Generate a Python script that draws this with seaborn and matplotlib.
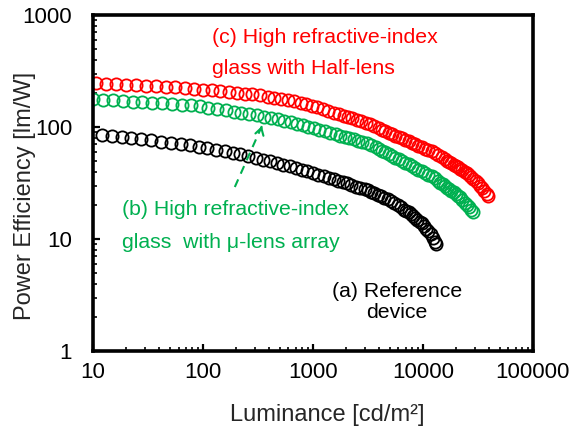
import matplotlib
matplotlib.use("Agg")
import matplotlib.pyplot as plt
import seaborn as sns
import pandas as pd

# Luminance [cd/m2] and power efficiency [lm/W] for each device
lum_ref = [12.0, 14.8, 18.2, 22.4, 27.5, 33.9, 41.7, 51.3, 63.1, 75.9, 91.2, 109.6,
           131.8, 158.5, 186.2, 218.8, 257.0, 302.0, 354.8, 407.4, 467.7, 537.0, 616.6,
           707.9, 794.3, 891.3, 1000, 1122, 1259, 1413, 1549, 1698, 1862, 2042, 2239,
           2455, 2692, 2951, 3162, 3388, 3631, 3890, 4169, 4467, 4786, 5129, 5495, 5888,
           6310, 6761, 7079, 7413, 7762, 8128, 8511, 8913, 9333, 9772, 10230, 10720,
           11220, 11750, 12300, 12880, 13180]
pe_ref = [84.9, 83.2, 81.3, 79.6, 77.8, 76.0, 74.1, 72.4, 70.6, 69.0, 66.8, 64.9, 62.8,
          61.0, 58.9, 56.9, 54.8, 52.8, 50.8, 49.2, 47.5, 45.9, 44.4, 42.8, 41.6, 40.2,
          38.8, 37.5, 36.3, 35.1, 34.1, 33.1, 32.2, 31.3, 30.3, 29.4, 28.6, 27.7, 27.1,
          26.2, 25.5, 24.7, 24.0, 23.3, 22.6, 21.8, 20.9, 20.0, 19.1, 18.3, 17.8, 17.3,
          16.7, 16.1, 15.5, 14.9, 14.3, 13.8, 13.1, 12.4, 11.8, 11.0, 10.2, 9.4, 9.0]

lum_mla = [10.0, 12.3, 15.1, 18.6, 22.9, 28.2, 34.7, 42.7, 52.5, 64.6, 77.6, 93.3, 112.2,
           134.9, 162.2, 190.5, 223.9, 263.0, 309.0, 363.1, 416.9, 478.6, 549.5, 631.0,
           724.4, 812.8, 912.0, 1023, 1148, 1288, 1445, 1622, 1778, 1950, 2138, 2344,
           2570, 2818, 3090, 3388, 3715, 3981, 4266, 4571, 4898, 5248, 5623, 6026, 6457,
           6918, 7413, 7943, 8511, 9120, 9772, 10470, 11220, 12020, 12880, 13800, 14450,
           15140, 15850, 16600, 17380, 18200, 19050, 19950, 20890, 21880, 22910, 23990,
           25120, 26300, 27540, 28510]
pe_mla = [176.6, 174.6, 172.6, 170.2, 168.3, 166.3, 164.4, 162.6, 160.3, 158.5, 156.7,
          152.4, 148.3, 144.5, 140.6, 137.4, 134.3, 130.9, 127.9, 123.6, 120.2, 116.7,
          113.2, 109.9, 106.9, 104.0, 100.7, 97.7, 94.6, 91.6, 88.7, 85.9, 83.8, 81.7,
          79.6, 77.6, 75.7, 73.8, 71.9, 68.7, 65.6, 63.4, 61.2, 59.2, 57.0, 55.1, 53.2,
          51.4, 49.7, 48.0, 46.4, 44.7, 43.2, 41.7, 40.3, 38.9, 37.6, 36.3, 34.7, 33.0,
          31.9, 30.8, 29.8, 28.8, 27.9, 27.0, 26.1, 25.2, 24.4, 23.6, 22.3, 21.1, 20.1,
          19.1, 18.1, 17.4]

lum_half = [10.7, 13.2, 16.2, 20.0, 24.6, 30.2, 37.2, 45.7, 56.2, 69.2, 83.2, 100.0,
            120.2, 144.5, 173.8, 204.2, 239.9, 281.8, 331.1, 389.0, 446.7, 512.9, 588.8,
            676.1, 776.2, 871.0, 977.2, 1096, 1230, 1380, 1549, 1738, 1905, 2089, 2291,
            2512, 2754, 3020, 3311, 3631, 3981, 4266, 4571, 4898, 5248, 5623, 6026, 6457,
            6918, 7413, 7943, 8511, 9120, 9772, 10470, 11220, 12020, 12880, 13800, 14790,
            15850, 16600, 17380, 18200, 19050, 19950, 20890, 21880, 22910, 23990, 25120,
            26300, 27540, 28840, 30200, 31620, 33110, 34670, 36310, 38020, 38900]
pe_half = [245.5, 242.7, 240.4, 237.7, 235.0, 232.8, 230.1, 228.0, 225.4, 222.8, 219.8,
           215.8, 211.8, 208.0, 204.6, 201.4, 198.2, 195.0, 191.0, 185.8, 181.6, 177.0,
           173.0, 169.0, 164.8, 160.3, 154.5, 149.3, 144.2, 139.0, 134.3, 129.7, 125.9,
           122.5, 119.1, 115.9, 112.7, 109.4, 105.4, 101.4, 97.5, 94.6, 91.8, 89.1, 86.5,
           83.9, 81.5, 79.1, 76.7, 74.5, 72.3, 70.1, 68.1, 66.1, 64.1, 62.4, 60.5, 58.2,
           55.8, 53.6, 51.4, 50.0, 48.5, 47.2, 45.9, 44.7, 43.5, 42.2, 41.0, 39.9, 38.8,
           37.3, 35.9, 34.4, 33.0, 31.5, 29.9, 28.4, 26.8, 25.1, 24.2]

x_ticks = [10, 100, 1000, 10000, 100000]
x_tick_labels = ["10", "100", "1000", "10000", "100000"]
y_ticks = [1, 10, 100, 1000]
y_tick_labels = ["1", "10", "100", "1000"]

BLACK = "#000000"
GREEN = "#00B050"
RED = "#FF0000"

TICK_FS = 16
LABEL_FS = 17
CAPTION_FS = 15.3

sns.set_style("ticks")
plt.rcParams["font.family"] = ["Liberation Sans", "DejaVu Sans"]

fig = plt.figure(figsize=(5.81, 4.28), dpi=100)
ax = fig.add_axes([0.160, 0.180, 0.757, 0.785])

series = [
    (lum_ref, pe_ref, BLACK),
    (lum_mla, pe_mla, GREEN),
    (lum_half, pe_half, RED),
]
for lum, pe, col in series:
    df = pd.DataFrame({"lum": lum, "pe": pe})
    sns.lineplot(data=df, x="lum", y="pe", ax=ax, estimator=None, sort=False,
                 linestyle="", marker="o", markersize=8.8, markerfacecolor="none",
                 markeredgecolor=col, markeredgewidth=1.3, color=col)

ax.set_xscale("log")
ax.set_yscale("log")
ax.set_xlim(10, 100000)
ax.set_ylim(1, 1000)
ax.set_xticks(x_ticks)
ax.set_xticklabels(x_tick_labels)
ax.set_yticks(y_ticks)
ax.set_yticklabels(y_tick_labels)

for sp in ax.spines.values():
    sp.set_linewidth(2.6)
    sp.set_color("black")
ax.tick_params(which="major", direction="in", length=5, width=1.6, labelsize=TICK_FS,
               colors="black")
ax.tick_params(which="minor", direction="in", length=3, width=1.4)
ax.tick_params(axis="x", which="major", pad=8)
ax.tick_params(axis="y", which="major", pad=15)

ax.set_xlabel("Luminance [cd/m\u00b2]", fontsize=LABEL_FS)
ax.set_ylabel("Power Efficiency [lm/W]", fontsize=LABEL_FS)
ax.xaxis.label.set_verticalalignment("center")
ax.yaxis.label.set_verticalalignment("center")
ax.xaxis.set_label_coords(0.533, -0.190)
ax.yaxis.set_label_coords(-0.155, 0.46)

# Curve captions
ax.text(0.270, 0.932, "(c) High refractive-index", color=RED, fontsize=CAPTION_FS,
        transform=ax.transAxes, ha="left", va="center")
ax.text(0.270, 0.842, "glass with Half-lens", color=RED, fontsize=CAPTION_FS,
        transform=ax.transAxes, ha="left", va="center")
ax.text(0.066, 0.420, "(b) High refractive-index", color=GREEN, fontsize=CAPTION_FS,
        transform=ax.transAxes, ha="left", va="center")
ax.text(0.066, 0.324, "glass  with \u03bc-lens array", color=GREEN, fontsize=CAPTION_FS,
        transform=ax.transAxes, ha="left", va="center")
ax.text(0.691, 0.176, "(a) Reference", color=BLACK, fontsize=CAPTION_FS,
        transform=ax.transAxes, ha="center", va="center")
ax.text(0.691, 0.113, "device", color=BLACK, fontsize=CAPTION_FS,
        transform=ax.transAxes, ha="center", va="center")

# Dashed pointer from the (b) caption up to its curve
arrow_tail = (195, 29.1)
arrow_tip = (344, 102)
ax.plot([arrow_tail[0], arrow_tip[0]], [arrow_tail[1], arrow_tip[1]],
        color=GREEN, linestyle=(0, (4, 3)), linewidth=1.5)
ax.annotate("", xy=arrow_tip, xytext=(arrow_tip[0] * 0.985, arrow_tip[1] * 0.95),
            arrowprops=dict(arrowstyle="->,head_length=0.5,head_width=0.3",
                            color=GREEN, lw=1.5, shrinkA=0, shrinkB=0))

fig.savefig("out.png", dpi=100)
